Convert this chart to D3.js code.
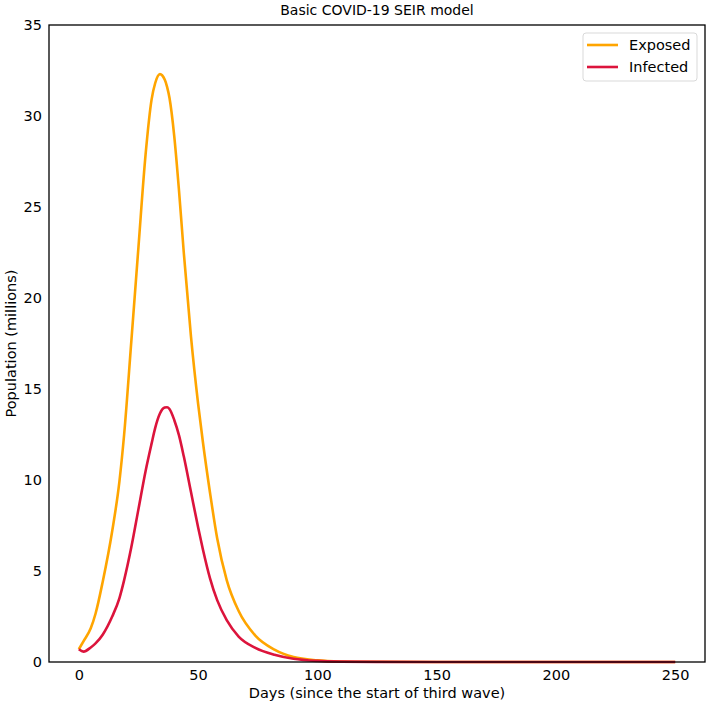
<!DOCTYPE html>
<html>
<head>
<meta charset="utf-8">
<script src="https://cdn.jsdelivr.net/npm/d3@7"></script>
<style>
  body { margin: 0; background: #fff; }
  text { font-family: "DejaVu Sans", sans-serif; fill: #000; }
</style>
</head>
<body>
<svg id="chart" width="708" height="708"></svg>
<script>
// Data (days since start, millions of people)
const days =     [0, 2, 5, 7, 10, 14, 17, 19, 22, 25, 28, 30.5, 32, 34, 36, 37, 38, 40, 42, 44, 47, 50, 52, 55, 58, 62, 67, 74, 82, 90, 100, 110, 125, 150, 200, 250]
const exposed =  [0.7, 1.15, 1.85, 2.65, 4.4, 7.2, 9.9, 12.5, 17.6, 22.8, 27.9, 30.9, 31.8, 32.3, 32.0, 31.6, 31.0, 28.9, 25.9, 22.5, 17.9, 14.2, 12.1, 9.3, 6.8, 4.5, 2.8, 1.45, 0.68, 0.27, 0.09, 0.03, 0.01, 0, 0, 0]
const infected = [0.7, 0.57, 0.8, 1.02, 1.5, 2.5, 3.5, 4.5, 6.3, 8.4, 10.5, 12.0, 12.85, 13.65, 13.98, 14.0, 13.9, 13.3, 12.45, 11.3, 9.35, 7.4, 6.2, 4.6, 3.4, 2.3, 1.4, 0.78, 0.4, 0.18, 0.06, 0.02, 0.005, 0, 0, 0]
const seriesNames = ["Exposed", "Infected"]
const seriesColors = ["#ffa500", "#dc143c"]
const xTicks = [0, 50, 100, 150, 200, 250]
const yTicks = [0, 5, 10, 15, 20, 25, 30, 35]

let svg = d3.select("#chart")
let margin = {top: 25, right: 3, bottom: 46, left: 49}
let width = +svg.attr("width") - margin.left - margin.right
let height = +svg.attr("height") - margin.top - margin.bottom
let g = svg.append("g").attr("transform", "translate(" + margin.left + "," + margin.top + ")")

// matplotlib-like 5% padding on x
let x = d3.scaleLinear().domain([-12.5, 262.5]).range([0, width])
let y = d3.scaleLinear().domain([0, 35]).range([height, 0])

let series = seriesNames.map((name, i) => ({
  name: name,
  color: seriesColors[i],
  values: days.map((d, j) => ({day: d, v: (i === 0 ? exposed : infected)[j]}))
}))

let line = d3.line()
  .curve(d3.curveMonotoneX)
  .x(d => x(d.day))
  .y(d => y(d.v))

// Axes without tick marks
g.append("g")
  .attr("transform", "translate(0," + height + ")")
  .call(d3.axisBottom(x).tickValues(xTicks).tickSize(0).tickPadding(8))
g.append("g")
  .call(d3.axisLeft(y).tickValues(yTicks).tickSize(0).tickPadding(7))
g.selectAll(".domain").remove()
g.selectAll(".tick text").style("font-size", "14.5px").style("font-family", "DejaVu Sans, sans-serif").attr("fill", "#000")

// Lines
g.selectAll(".series")
  .data(series)
  .enter().append("path")
    .attr("class", "series")
    .attr("d", d => line(d.values))
    .attr("fill", "none")
    .attr("stroke", d => d.color)
    .attr("stroke-width", 2.6)

// Frame
g.append("rect")
  .attr("width", width)
  .attr("height", height)
  .attr("fill", "none")
  .attr("stroke", "#000")
  .attr("stroke-width", 1.3)

// Title and axis labels
svg.append("text")
  .attr("x", margin.left + width / 2)
  .attr("y", 15)
  .attr("text-anchor", "middle")
  .style("font-size", "14px")
  .text("Basic COVID-19 SEIR model")

svg.append("text")
  .attr("x", margin.left + width / 2)
  .attr("y", 698)
  .attr("text-anchor", "middle")
  .style("font-size", "14.5px")
  .text("Days (since the start of third wave)")

svg.append("text")
  .attr("transform", "translate(16," + (margin.top + height / 2) + ") rotate(-90)")
  .attr("text-anchor", "middle")
  .style("font-size", "14.5px")
  .text("Population (millions)")

// Legend
let lg = svg.append("g").attr("transform", "translate(583,33)")
lg.append("rect")
  .attr("width", 114)
  .attr("height", 48)
  .attr("rx", 3)
  .attr("fill", "#fff")
  .attr("stroke", "#d9d9d9")
  .attr("stroke-width", 1)
let li = lg.selectAll(".legend-item")
  .data(series)
  .enter().append("g")
    .attr("class", "legend-item")
    .attr("transform", (d, i) => "translate(0," + (12 + i * 22) + ")")
li.append("line")
  .attr("x1", 4).attr("x2", 35)
  .attr("stroke", d => d.color)
  .attr("stroke-width", 2.6)
li.append("text")
  .attr("x", 46)
  .attr("dy", "0.35em")
  .style("font-size", "14.5px")
  .text(d => d.name)
</script>
</body>
</html>
